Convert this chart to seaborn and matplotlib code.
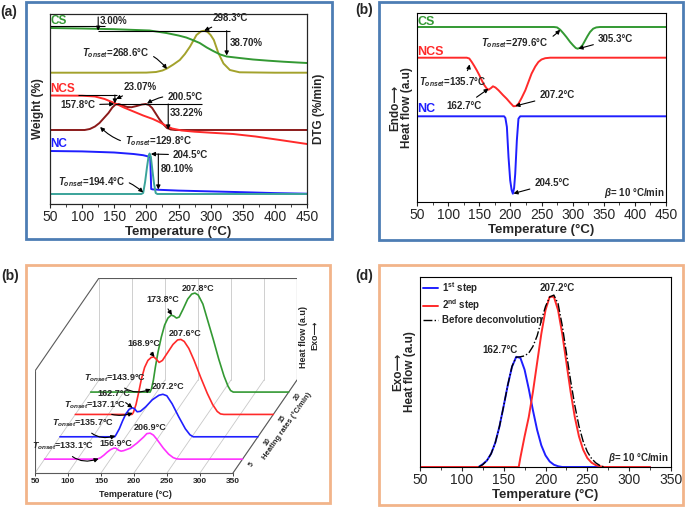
import numpy as np
import seaborn as sns
import matplotlib.pyplot as plt
from matplotlib.patches import Rectangle
from matplotlib.ticker import MultipleLocator

# =========================
# Data (arbitrary stacked units)
# =========================

# (a) TGA (weight) and DTG curves
a_cs_w_T = [50, 100, 150, 205, 231, 250, 262, 272, 283, 294, 304, 315, 325, 345, 366, 390, 413, 435, 450]
a_cs_w = [176, 175.5, 174.8, 173.5, 171, 168.5, 166.5, 164, 161, 156.5, 153, 149.5, 147.5, 146, 144.5, 143.3, 142.3, 141.5, 141]
a_cs_dtg_T = [50, 150, 200, 215, 225, 232, 242, 252, 260, 268, 278, 285, 290, 295, 300, 305, 312, 320, 330, 345, 400, 450]
a_cs_dtg = [131.3, 131.3, 131.4, 132, 133.5, 135.5, 139.5, 144, 150, 157.5, 169, 172.6, 173.3, 172.2, 169, 164, 151, 140.5, 134, 131.7, 131.3, 131.3]
a_ncs_w_T = [50, 100, 120, 135, 150, 165, 180, 195, 210, 220, 230, 240, 255, 275, 300, 335, 370, 410, 450]
a_ncs_w = [108.5, 108.3, 107.5, 105, 101, 96.5, 92.5, 88.5, 85, 82, 78.5, 75.5, 73.5, 72.3, 71.3, 70, 67.5, 63.8, 60]
a_ncs_dtg_T = [50, 104, 112, 120, 127, 134, 141, 147, 152, 157, 163, 170, 177, 185, 193, 199, 204, 209, 214, 220, 226, 232, 238, 245, 300, 450]
a_ncs_dtg = [74, 74, 75, 77.5, 81, 86, 91, 96.5, 99.5, 100, 98.5, 97, 96.8, 98, 99.5, 100, 99, 96, 91, 85, 80, 76, 74.5, 74, 74, 74]
a_nc_w_T = [50, 100, 150, 180, 195, 203, 206, 207.5, 210, 220, 250, 300, 350, 400, 450]
a_nc_w = [53, 52.6, 51.5, 50, 48.8, 47.5, 46.5, 15, 14.6, 14.2, 13.4, 12.6, 11.8, 10.9, 10.3]
a_nc_dtg_T = [50, 150, 192, 195, 198, 201, 203.5, 205, 207, 209.5, 212, 214.5, 217, 300, 450]
a_nc_dtg = [10, 10, 10, 11, 22, 37, 48, 50.5, 47, 33, 20, 11, 10, 10, 10]

# (b) DSC curves at 10 °C/min
b_cs_T = [50, 200, 270, 275, 280, 285, 290, 296, 301, 305, 308, 312, 316, 320, 324, 328, 333, 338, 344, 450]
b_cs = [175, 175, 175, 174.6, 172.3, 168.8, 165, 160, 156.5, 154, 153.3, 154.2, 157, 161.5, 166, 170, 173.3, 174.6, 175, 175]
b_ncs_T = [50, 130, 134, 138, 142, 146, 150, 154, 158, 162, 165, 169, 172, 176, 181, 188, 194, 200, 205, 209,
           213, 218, 224, 229, 234, 240, 245, 250, 256, 264, 450]
b_ncs = [144.3, 144.3, 143.5, 140, 136, 131.7, 127, 121.7, 117, 113.5, 112.3, 114, 115.7, 114.5, 111.7, 107, 103.3, 99, 95.7, 96,
         98.3, 104, 111.7, 120, 128.3, 135.5, 140, 142.5, 143.8, 144.3, 144.3]
b_nc_T = [50, 190, 192, 194.4, 197, 199.7, 202, 204, 206, 207.8, 210.4, 213, 215.8, 450]
b_nc = [85.7, 85.7, 84, 75, 45, 21.7, 12, 8.3, 14, 28.3, 61.7, 83.3, 85.7, 85.7]

# (c) NCS DSC at several heating rates (°C/min)
c_rates = [5, 10, 15, 20]
c_colors = ['#ff33ff', '#1f1fff', '#ff2a2a', '#339933']
c_T = [
    [50, 130, 135, 140, 145, 150, 155, 158, 162, 166, 170, 180, 190, 200, 205, 210, 215, 220, 230, 238, 245, 250, 255, 350],
    [50, 133, 135, 140, 145, 150, 155, 160, 163, 167, 172, 180, 190, 200, 206, 212, 220, 230, 240, 247, 252, 350],
    [50, 136, 138, 142, 146, 150, 155, 160, 165, 169, 173, 177, 182, 190, 198, 205, 210, 215, 222, 230, 240, 250, 258, 265, 270, 275, 350],
    [50, 140, 142, 145, 148, 152, 157, 162, 167, 172, 176, 180, 184, 190, 197, 203, 208, 213, 220, 228, 236, 244, 252, 258, 262, 266, 350],
]
c_heat = [
    [0, 0, 1.5, 4, 7, 9.5, 11, 11, 9, 8, 8.5, 11, 16, 22, 25.5, 26, 24, 20, 11, 5, 1.5, 0.3, 0, 0],
    [0, 0, 2, 8, 16, 23, 27.5, 29, 28, 25, 25.5, 30, 37, 41.5, 42.5, 41, 33, 20, 8, 2, 0, 0],
    [0, 0, 2, 10, 22, 35, 47, 54, 57, 57.5, 55, 52, 54, 62, 70, 74.5, 75, 73, 66, 54, 37, 21, 10, 3, 0.5, 0, 0],
    [0, 0, 3, 12, 25, 40, 55, 67, 74, 77, 76, 74, 75, 83, 93, 98, 99, 97, 88, 70, 52, 33, 16, 6, 1.5, 0, 0],
]
c_peak_labels = [
    # (text, T, height, rate)
    ('207.8°C', 213, 104, 20), ('207.6°C', 216, 81, 15), ('207.2°C', 214, 50, 10),
    ('206.9°C', 210, 32, 5), ('156.9°C', 158, 16, 5),
]

# (d) deconvolution of NCS DSC curve
d_step1_T = [50, 120, 125, 130, 135, 140, 145, 150, 155, 160, 165, 170, 175, 180, 185, 190, 195, 200, 205, 210, 215, 220, 325]
d_step1 = [0, 0, 0.015, 0.034, 0.07, 0.128, 0.214, 0.321, 0.433, 0.528, 0.58, 0.574, 0.512, 0.411, 0.298, 0.195, 0.114,
           0.061, 0.029, 0.012, 0.004, 0, 0]
d_step2_T = [50, 168, 170, 175, 180, 185, 190, 195, 200, 205, 210, 215, 220, 225, 230, 235, 240, 245, 250, 255, 260, 265, 270, 325]
d_step2 = [0, 0, 0.05, 0.161, 0.263, 0.396, 0.549, 0.701, 0.826, 0.896, 0.896, 0.826, 0.701, 0.549, 0.396, 0.263, 0.161,
           0.091, 0.047, 0.023, 0.01, 0.004, 0, 0]
d_total_T = [120, 125, 130, 135, 140, 145, 150, 155, 160, 165, 170, 175, 180, 185, 190, 195, 200, 205, 210, 215, 220,
             225, 230, 235, 240, 245, 250, 255, 260, 265, 270]
d_total = [0, 0.012, 0.034, 0.07, 0.128, 0.214, 0.321, 0.433, 0.53, 0.578, 0.58, 0.585, 0.6, 0.635, 0.69, 0.77, 0.845,
           0.895, 0.905, 0.86, 0.745, 0.6, 0.455, 0.325, 0.215, 0.135, 0.08, 0.045, 0.022, 0.008, 0]

# =========================
# Style
# =========================
sns.set_style('ticks')
plt.rcParams['font.family'] = ['Liberation Sans', 'DejaVu Sans']
plt.rcParams['mathtext.fontset'] = 'custom'
plt.rcParams['mathtext.rm'] = 'Liberation Sans:bold'
plt.rcParams['mathtext.bf'] = 'Liberation Sans:bold'
plt.rcParams['mathtext.it'] = 'Liberation Sans:bold:italic'
plt.rcParams['axes.linewidth'] = 0.8

GREEN, OLIVE, RED, DARKRED = '#339933', '#a3a22c', '#ff2a2a', '#8b1a1a'
BLUE, TEAL = '#1f1fff', '#3aa39a'
FRAME_TOP, FRAME_BOTTOM = '#4d7db4', '#f2b48a'

W, H = 685, 507
fig = plt.figure(figsize=(W / 100, H / 100), dpi=100)


def box(x0, y0, x1, y1):
    # pixel box (top-left origin) -> figure fraction rect
    return [x0 / W, 1 - y1 / H, (x1 - x0) / W, (y1 - y0) / H]


def frame(x0, y0, x1, y1, color):
    fig.add_artist(Rectangle((x0 / W, 1 - y1 / H), (x1 - x0) / W, (y1 - y0) / H,
                             transform=fig.transFigure, fill=False, ec=color, lw=2))


def line(ax, x, y, color, lw=1.4, **kw):
    sns.lineplot(x=x, y=y, ax=ax, color=color, lw=lw, sort=False, estimator=None, **kw)


def note(ax, text, xy, xytext, rad=0.0, fs=7, arrow=True, ha='center'):
    props = None
    if arrow:
        props = dict(arrowstyle='-|>', color='k', lw=0.8, mutation_scale=6,
                     shrinkA=1, shrinkB=0, connectionstyle=f'arc3,rad={rad}')
    ax.annotate(text, xy=xy, xytext=xytext, ha=ha, va='center', fontsize=fs,
                fontweight='bold', arrowprops=props)


def vline_arrow(ax, x, y0, y1):
    ax.annotate('', xy=(x, y1), xytext=(x, y0),
                arrowprops=dict(arrowstyle='-|>', color='k', lw=0.8, mutation_scale=6, shrinkA=0, shrinkB=0))


def style_2d(ax, xmax):
    ax.set_xlim(50, xmax)
    ax.set_xticks(range(50, xmax + 1, 50))
    ax.xaxis.set_minor_locator(MultipleLocator(25))
    ax.set_yticks([])
    ax.tick_params(axis='x', which='major', direction='out', length=3, width=0.8, labelsize=10, pad=1.5)
    ax.tick_params(axis='x', which='minor', direction='out', length=2, width=0.6)
    ax.set_xlabel('Temperature (°C)', fontsize=9.5, fontweight='bold', labelpad=1)
    for s in ax.spines.values():
        s.set_visible(True)
        s.set_color('k')


# =========================
# (a) TGA / DTG
# =========================
ax = fig.add_axes(box(50, 14, 307, 204))
line(ax, a_cs_dtg_T, a_cs_dtg, OLIVE)
line(ax, a_cs_w_T, a_cs_w, GREEN)
line(ax, a_ncs_dtg_T, a_ncs_dtg, DARKRED)
line(ax, a_ncs_w_T, a_ncs_w, RED)
line(ax, a_nc_w_T, a_nc_w, BLUE)
line(ax, a_nc_dtg_T, a_nc_dtg, TEAL)
ax.set_ylim(0, 190)
style_2d(ax, 450)
ax.set_ylabel('Weight (%)', fontsize=8.5, fontweight='bold', labelpad=4)
ax2 = ax.twinx()
ax2.set_yticks([])
ax2.set_ylabel('DTG (%/min)', fontsize=8.5, fontweight='bold', labelpad=4)

ax.text(51, 182.5, 'CS', color=GREEN, fontsize=8.5, fontweight='bold', va='center')
ax.text(51, 115, 'NCS', color=RED, fontsize=8.5, fontweight='bold', va='center')
ax.text(51, 60, 'NC', color=BLUE, fontsize=8.5, fontweight='bold', va='center')

# CS
ax.hlines(178, 50, 136, color='k', lw=0.8)
vline_arrow(ax, 125, 187, 173.3)
ax.text(128, 183, '3.00%', fontsize=7, fontweight='bold', va='center')
ax.hlines(173.3, 125, 330, color='k', lw=0.8)
note(ax, '298.3°C', (290, 173.3), (331, 185.7))
vline_arrow(ax, 325, 173.3, 148.5)
ax.text(329, 161, '38.70%', fontsize=7, fontweight='bold', va='center')
note(ax, '$T_{onset}$=268.6°C', (232, 135), (152, 150.7), rad=-0.35)
# NCS
ax.hlines(109, 94, 154, color='k', lw=0.8)
vline_arrow(ax, 151, 109, 100.5)
note(ax, '23.07%', (153, 105), (191, 117))
ax.hlines(100, 151, 287, color='k', lw=0.8)
vline_arrow(ax, 234, 100, 74.5)
ax.text(237, 91, '33.22%', fontsize=7, fontweight='bold', va='center')
note(ax, '157.8°C', (150, 100), (93, 99))
note(ax, '200.5°C', (201, 100.5), (260, 107), rad=0.2)
note(ax, '$T_{onset}$=129.8°C', (128, 77), (219, 63), rad=-0.3)
# NC
note(ax, '204.5°C', (207, 50), (269, 49))
vline_arrow(ax, 218.6, 50, 14.5)
ax.text(222, 34.7, '80.10%', fontsize=7, fontweight='bold', va='center')
note(ax, '$T_{onset}$=194.4°C', (195, 11.5), (114, 22.3), rad=-0.3)

# =========================
# (b) DSC at 10 °C/min
# =========================
ax = fig.add_axes(box(417, 13, 666, 202))
line(ax, b_cs_T, b_cs, GREEN)
line(ax, b_ncs_T, b_ncs, RED)
line(ax, b_nc_T, b_nc, BLUE)
ax.set_ylim(0, 189)
style_2d(ax, 450)
ax.set_ylabel('Endo\u27f6\nHeat flow (a.u)', fontsize=8.5, fontweight='bold', labelpad=3, linespacing=1.0)
ax.text(51, 180, 'CS', color=GREEN, fontsize=9, fontweight='bold', va='center')
ax.text(51, 150, 'NCS', color=RED, fontsize=9, fontweight='bold', va='center')
ax.text(51, 93.3, 'NC', color=BLUE, fontsize=9, fontweight='bold', va='center')
note(ax, '$T_{onset}$=279.6°C', (280, 172.3), (207.5, 159), rad=0.3)
note(ax, '305.3°C', (309.4, 153.3), (369, 163.3))
note(ax, '$T_{onset}$=135.7°C', (134.5, 137.7), (107.5, 120), rad=0.3)
note(ax, '162.7°C', (165, 113.3), (125, 95.7))
note(ax, '207.2°C', (208, 96), (275, 106.7))
note(ax, '204.5°C', (205, 8.5), (267, 19))
ax.text(448, 9, r'$\beta$= 10 °C/min', fontsize=7, fontweight='bold', ha='right', va='center')

# =========================
# (c) pseudo-3D waterfall of heating rates
# =========================
DMIN, DMAX = 1.9, 22.7      # depth axis range (°C/min)
SHIFT_T, SHIFT_H = 97, 93   # oblique offset of the back of the box
BOX_H = 102


def depth(rate):
    return (np.asarray(rate, dtype=float) - DMIN) / (DMAX - DMIN)


ax = fig.add_axes(box(35, 278, 297, 473))
grid_kw = dict(color='#c8c8c8', lw=0.6)
edge_kw = dict(color='#5a5a5a', lw=0.8)
for t in range(50, 351, 50):
    ax.plot([t + SHIFT_T, t + SHIFT_T], [SHIFT_H, BOX_H + SHIFT_H], **grid_kw)
    ax.plot([t, t + SHIFT_T], [0, SHIFT_H], **grid_kw)
ax.plot([50, 50], [0, BOX_H], **edge_kw)
ax.plot([50, 50 + SHIFT_T], [BOX_H, BOX_H + SHIFT_H], **edge_kw)
ax.plot([50 + SHIFT_T, 350 + SHIFT_T], [BOX_H + SHIFT_H] * 2, **edge_kw)
ax.plot([350 + SHIFT_T] * 2, [SHIFT_H, BOX_H + SHIFT_H], **edge_kw)
ax.plot([350, 350 + SHIFT_T], [0, SHIFT_H], **edge_kw)

for rate, T, h, col in reversed(list(zip(c_rates, c_T, c_heat, c_colors))):
    f = depth(rate)
    line(ax, np.asarray(T) + f * SHIFT_T, np.asarray(h) + f * SHIFT_H, col, lw=1.2)
    ax.text(350 + f * SHIFT_T + 14, f * SHIFT_H - 5, str(rate), fontsize=5, fontweight='bold',
            rotation=55, ha='center', va='center')

for text, t, hh, rate in c_peak_labels:
    f = depth(rate)
    ax.text(t + f * SHIFT_T, hh + f * SHIFT_H, text, fontsize=6.5, fontweight='bold', ha='center', va='center')


def c_note(text, t, hh, rate, xytext, rad=0.0):
    f = depth(rate)
    note(ax, text, (t + f * SHIFT_T, hh + f * SHIFT_H), xytext, rad=rad, fs=6.5)


c_note('173.8°C', 173, 77, 20, (243, 173))
c_note('168.9°C', 170, 57.5, 15, (215, 129))
c_note('$T_{onset}$=143.9°C', 141, 3, 20, (171, 94.7), rad=0.4)
c_note('162.7°C', 160, 29, 10, (170, 79))
c_note('$T_{onset}$=137.1°C', 137, 1.5, 15, (141, 68), rad=0.3)
c_note('$T_{onset}$=135.7°C', 134, 1, 10, (123, 49.7), rad=0.4)
c_note('$T_{onset}$=133.1°C', 132, 0.5, 5, (93, 26.3), rad=0.4)

ax.set_xlim(50, 350 + SHIFT_T)
ax.set_ylim(0, BOX_H + SHIFT_H)
for side in ['left', 'right', 'top']:
    ax.spines[side].set_visible(False)
ax.spines['bottom'].set_bounds(50, 350)
ax.spines['bottom'].set_color('#5a5a5a')
ax.set_yticks([])
ax.set_xticks(range(50, 351, 50))
ax.tick_params(axis='x', length=2, width=0.6, labelsize=6, pad=1.5)
for t in ax.get_xticklabels():
    t.set_fontweight('bold')
ax.set_xlabel('Temperature (°C)', fontsize=6.5, fontweight='bold')
ax.xaxis.set_label_coords(0.385, -0.085)
ax.text(432, 47, 'Heating rates (°C/min)', fontsize=5.5, fontweight='bold', rotation=55,
        ha='center', va='center')
fig.text(304 / W, 1 - 337 / H, 'Heat flow (a.u)', rotation=90, fontsize=6.5, fontweight='bold',
         ha='center', va='center')
fig.text(315 / W, 1 - 335 / H, 'Exo\u27f6', rotation=90, fontsize=6.5, fontweight='bold',
         ha='center', va='center')

# =========================
# (d) deconvolution
# =========================
ax = fig.add_axes(box(420, 277, 671, 467))
line(ax, d_step1_T, d_step1, BLUE, label='1$^{\\rm st}$ step')
line(ax, d_step2_T, d_step2, RED, label='2$^{\\rm nd}$ step')
line(ax, d_total_T, d_total, 'k', lw=1.0, linestyle='-.', label='Before deconvolution')
ax.set_ylim(0, 1.0)
style_2d(ax, 350)
ax.set_ylabel('Exo\u27f6\nHeat flow (a.u)', fontsize=8.5, fontweight='bold', labelpad=3, linespacing=1.0)
leg = ax.legend(loc='upper left', frameon=False, fontsize=7, handlelength=1.6, handletextpad=0.4,
                borderaxespad=0.2, labelspacing=0.2, borderpad=0.1)
for t in leg.get_texts():
    t.set_fontweight('bold')
ax.text(145.6, 0.616, '162.7°C', fontsize=7, fontweight='bold', ha='center', va='center')
ax.text(213.7, 0.942, '207.2°C', fontsize=7, fontweight='bold', ha='center', va='center')
ax.text(347, 0.045, r'$\beta$= 10 °C/min', fontsize=7, fontweight='bold', ha='right', va='center')

# =========================
# Frames and panel letters
# =========================
frame(26, 2, 332, 239, FRAME_TOP)
frame(379, 2, 683, 240, FRAME_TOP)
frame(26, 265, 330, 503, FRAME_BOTTOM)
frame(379, 265, 683, 505, FRAME_BOTTOM)
for x, y, lab in [(9, 12, '(a)'), (364, 10, '(b)'), (10, 276, '(b)'), (364, 276, '(d)')]:
    fig.text(x / W, 1 - y / H, lab, fontsize=10, fontweight='bold', ha='center', va='center')

fig.savefig('out.png', dpi=100)
